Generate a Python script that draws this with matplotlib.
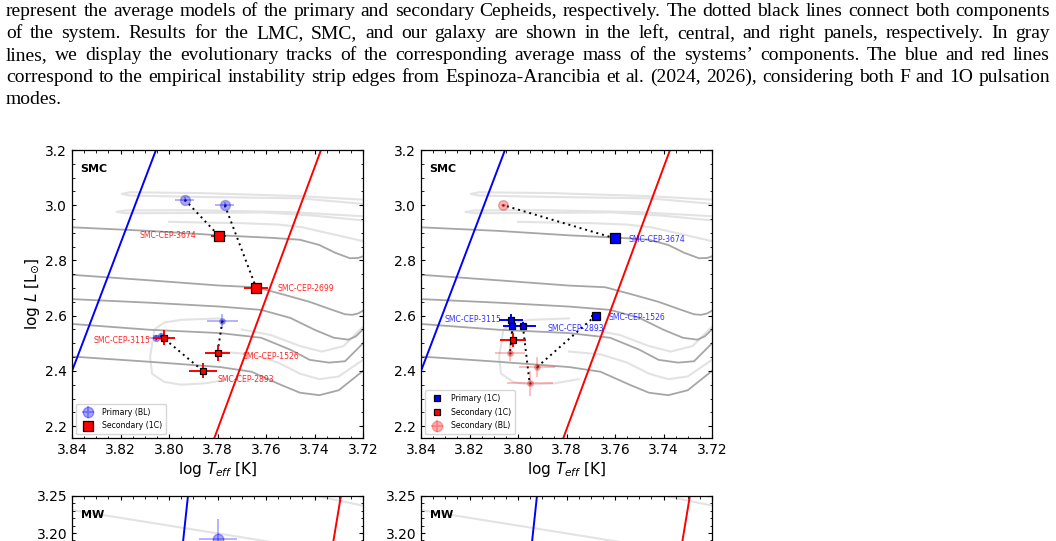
import matplotlib
matplotlib.use("Agg")
import matplotlib.pyplot as plt
from matplotlib.lines import Line2D
from matplotlib.ticker import MultipleLocator, FormatStrFormatter, FixedLocator

# ---------------- caption ----------------
caption_lines = [
    "represent the average models of the primary and secondary Cepheids, respectively. The dotted black lines connect both components",
    "of the system. Results for the LMC, SMC, and our galaxy are shown in the left, central, and right panels, respectively. In gray",
    "lines, we display the evolutionary tracks of the corresponding average mass of the systems\u2019 components. The blue and red lines",
    "correspond to the empirical instability strip edges from Espinoza-Arancibia et al. (2024, 2026), considering both F and 1O pulsation",
    "modes.",
]

# ---------------- SMC evolutionary tracks (log Teff, log L) ----------------
dark_1_T = [3.84, 3.808, 3.779, 3.758, 3.746, 3.738, 3.7315, 3.7254, 3.722, 3.72]
dark_1_L = [2.92, 2.907, 2.891, 2.882, 2.875, 2.856, 2.828, 2.808, 2.809, 2.815]
dark_2_T = [3.84, 3.808, 3.779, 3.764, 3.753, 3.742, 3.734, 3.7274, 3.7245, 3.722, 3.72]
dark_2_L = [2.748, 2.728, 2.709, 2.703, 2.677, 2.650, 2.625, 2.605, 2.603, 2.608, 2.618]
dark_3_T = [3.84, 3.808, 3.779, 3.762, 3.750, 3.740, 3.732, 3.726, 3.723, 3.72]
dark_3_L = [2.66, 2.647, 2.633, 2.621, 2.592, 2.549, 2.52, 2.513, 2.525, 2.55]
dark_4_T = [3.84, 3.808, 3.779, 3.762, 3.750, 3.742, 3.734, 3.7274, 3.72]
dark_4_L = [2.57, 2.549, 2.537, 2.52, 2.477, 2.44, 2.43, 2.435, 2.50]
dark_5_T = [3.84, 3.808, 3.779, 3.766, 3.754, 3.746, 3.738, 3.73, 3.72]
dark_5_L = [2.452, 2.433, 2.414, 2.397, 2.35, 2.321, 2.312, 2.33, 2.40]

light_1_T = [3.72, 3.746, 3.787, 3.8161, 3.8194, 3.8161, 3.787, 3.746, 3.72]
light_1_L = [3.02, 3.033, 3.044, 3.047, 3.041, 3.035, 3.030, 3.025, 3.005]
light_2_T = [3.72, 3.75, 3.79, 3.818, 3.8216, 3.818, 3.79, 3.761, 3.74, 3.72]
light_2_L = [2.96, 2.975, 2.982, 2.981, 2.976, 2.971, 2.972, 2.974, 2.962, 2.945]
light_3_T = [3.72, 3.735, 3.745, 3.755, 3.77, 3.785, 3.80]
light_3_L = [2.87, 2.90, 2.92, 2.93, 2.935, 2.937, 2.94]
light_4_T = [3.779, 3.795, 3.802, 3.806, 3.8078, 3.807, 3.802, 3.795, 3.785, 3.775]
light_4_L = [2.59, 2.585, 2.575, 2.55, 2.45, 2.39, 2.36, 2.35, 2.355, 2.37]
light_5_T = [3.72, 3.73, 3.738, 3.746, 3.755, 3.766, 3.779]
light_5_L = [2.44, 2.38, 2.37, 2.39, 2.43, 2.46, 2.47]
light_6_T = [3.72, 3.728, 3.737, 3.746, 3.758, 3.77]
light_6_L = [2.56, 2.49, 2.47, 2.49, 2.53, 2.55]

# instability strip edges
smc_blue_T = [3.8032, 3.8508]
smc_blue_L = [3.25, 2.15]
smc_red_T = [3.7352, 3.7816]
smc_red_L = [3.25, 2.15]
mw_blue_T = [3.7912, 3.8053]
mw_blue_L = [3.28, 2.85]
mw_red_T = [3.7276, 3.7494]
mw_red_L = [3.28, 2.85]

# MW tracks
mw_track_1_T = [3.84, 3.76, 3.72]
mw_track_1_L = [3.231, 3.189, 3.168]
mw_track_2_T = [3.745, 3.72]
mw_track_2_L = [3.254, 3.237]
mw_yticks = [3.20, 3.25]

# ---------------- left SMC panel (BL primaries, 1C secondaries) ----------------
left_names = ["SMC-CEP-3674", "SMC-CEP-2699", "SMC-CEP-3115", "SMC-CEP-1526", "SMC-CEP-2893"]
left_prim_T = [3.7935, 3.777, 3.8055, 3.778, 3.8035]
left_prim_L = [3.02, 3.00, 2.52, 2.58, 2.528]
left_prim_Te = [0.004, 0.004, 0.003, 0.0065, 0.003]
left_prim_Le = [0.01, 0.01, 0.01, 0.025, 0.01]
left_sec_T = [3.7795, 3.764, 3.802, 3.780, 3.786]
left_sec_L = [2.89, 2.70, 2.52, 2.465, 2.40]
left_sec_Te = [0.003, 0.005, 0.0046, 0.005, 0.0058]
left_sec_Le = [0.01, 0.01, 0.028, 0.03, 0.027]

# ---------------- right SMC panel (1C primaries, 1C / BL secondaries) ----------------
right_names = ["SMC-CEP-3674", "SMC-CEP-1526", "SMC-CEP-3115", "", "SMC-CEP-2893"]
right_prim_T = [3.760, 3.768, 3.803, 3.8023, 3.798]
right_prim_L = [2.88, 2.60, 2.585, 2.563, 2.563]
right_prim_Te = [0.002, 0.002, 0.005, 0.004, 0.0055]
right_prim_Le = [0.01, 0.012, 0.02, 0.015, 0.015]
right_sec1_T = [3.802]
right_sec1_L = [2.513]
right_sec1_Te = [0.0055]
right_sec1_Le = [0.025]
right_sec2_T = [3.806, 3.792, 3.8033, 3.7952]
right_sec2_L = [3.00, 2.415, 2.465, 2.355]
right_sec2_Te = [0.001, 0.0074, 0.006, 0.0095]
right_sec2_Le = [0.005, 0.036, 0.03, 0.046]

# MW point
mw_prim_T = [3.7798]
mw_prim_L = [3.192]
mw_prim_Te = [0.0078]
mw_prim_Le = [0.027]

# marker sizes (style)
left_prim_ms = [7.2, 7.2, 4.5, 4.0, 4.5]
left_sec_ms = [7.4, 6.6, 4.4, 4.2, 4.0]
right_prim_ms = [7.2, 5.8, 4.4, 4.2, 4.5]
right_sec2_ms = [7.0, 4.0, 4.0, 4.0]

# ---------------- figure ----------------
W, H = 1056, 541
fig = plt.figure(figsize=(W / 100, H / 100), dpi=100)

# caption, justified
renderer = fig.canvas.get_renderer()
cap_kw = dict(fontsize=14.0, family="Liberation Serif", color="black")
x0, x1 = 6.0, 1050.0
for i, line in enumerate(caption_lines):
    words = line.split(" ")
    yb = 1 - (16.5 + 21.8 * i) / H
    ts = [fig.text(0, yb, w, va="baseline", ha="left", **cap_kw) for w in words]
    ws = [t.get_window_extent(renderer).width for t in ts]
    if i == len(caption_lines) - 1:
        gap = 4.0
    else:
        gap = (x1 - x0 - sum(ws)) / (len(words) - 1)
    xc = x0
    for t, wd in zip(ts, ws):
        t.set_x(xc / W)
        xc += wd + gap

DARK = "#a6a6a6"
LIGHT = "#e3e3e3"


def setup(ax, ylim, ymaj, ymin, yfmt):
    ax.set_xlim(3.84, 3.72)
    ax.set_ylim(*ylim)
    ax.xaxis.set_major_locator(MultipleLocator(0.02))
    ax.xaxis.set_minor_locator(MultipleLocator(0.005))
    ax.yaxis.set_major_locator(MultipleLocator(ymaj))
    ax.yaxis.set_minor_locator(MultipleLocator(ymin))
    ax.xaxis.set_major_formatter(FormatStrFormatter("%.2f"))
    ax.yaxis.set_major_formatter(FormatStrFormatter(yfmt))
    ax.tick_params(which="both", direction="in", top=True, right=True, labelsize=10, pad=3.5)
    ax.tick_params(which="major", length=3.2, width=0.8)
    ax.tick_params(which="minor", length=1.8, width=0.6)
    for s in ax.spines.values():
        s.set_linewidth(0.9)


def smc_background(ax):
    for T, L in [(light_1_T, light_1_L), (light_2_T, light_2_L), (light_3_T, light_3_L),
                 (light_4_T, light_4_L), (light_5_T, light_5_L), (light_6_T, light_6_L)]:
        ax.plot(T, L, color=LIGHT, lw=1.5, zorder=1)
    for T, L in [(dark_1_T, dark_1_L), (dark_2_T, dark_2_L), (dark_3_T, dark_3_L),
                 (dark_4_T, dark_4_L), (dark_5_T, dark_5_L)]:
        ax.plot(T, L, color=DARK, lw=1.3, zorder=1.5)
    ax.plot(smc_blue_T, smc_blue_L, color="blue", lw=1.4, zorder=2)
    ax.plot(smc_red_T, smc_red_L, color="red", lw=1.4, zorder=2)
    ax.text(0.03, 0.95, "SMC", transform=ax.transAxes, fontsize=8, fontweight="bold",
            va="top", ha="left")


pw, ph = 291 / W, 288 / H
ax1 = fig.add_axes([72 / W, 1 - 438 / H, pw, ph])
ax2 = fig.add_axes([421 / W, 1 - 438 / H, pw, ph])
for ax in (ax1, ax2):
    setup(ax, (2.157, 3.2), 0.2, 0.05, "%.1f")
    smc_background(ax)
    ax.set_xlabel(r"log $T_{eff}$ [K]", fontsize=11, labelpad=2)
ax1.set_ylabel(r"log $L$ [L$_{\odot}$]", fontsize=11, labelpad=2)

# ---- left panel data ----
for k in range(len(left_names)):
    ax1.plot([left_prim_T[k], left_sec_T[k]], [left_prim_L[k], left_sec_L[k]],
             color="black", ls=(0, (1, 2)), lw=1.4, zorder=3)
    ax1.errorbar(left_prim_T[k], left_prim_L[k], xerr=left_prim_Te[k], yerr=left_prim_Le[k],
                 fmt="o", ms=left_prim_ms[k], color="blue", mec="#3030a0", alpha=0.35,
                 elinewidth=1.2, zorder=4)
    ax1.plot(left_prim_T[k], left_prim_L[k], ".", color="#202060", ms=1.5, zorder=4)
    ax1.errorbar(left_sec_T[k], left_sec_L[k], xerr=left_sec_Te[k], yerr=left_sec_Le[k],
                 fmt="s", ms=left_sec_ms[k], mfc="red", mec="black", mew=0.9,
                 ecolor="red", elinewidth=1.4, zorder=5)

lab_off_left = [(-16, 0), (15, 0), (-10, -2), (18, -2.4), (10.8, -6.5)]
for k, name in enumerate(left_names):
    dx, dy = lab_off_left[k]
    ax1.annotate(name, (left_sec_T[k], left_sec_L[k]), xytext=(dx, dy), textcoords="offset points",
                 ha="right" if dx < 0 else "left", va="center", fontsize=5.6,
                 color="red", alpha=0.85, zorder=6)

h1 = (Line2D([], [], marker="o", ms=7.5, color="blue", alpha=0.35, ls=""),
      Line2D([], [], marker="+", ms=9, mew=1.2, color="blue", alpha=0.35, ls=""))
h2 = Line2D([], [], marker="s", ms=7.4, mfc="red", mec="black", mew=0.9, ls="")
ax1.legend([h1, h2], ["Primary (BL)", "Secondary (1C)"], loc="lower left", fontsize=5.6,
           borderaxespad=0.5, handletextpad=0.8, labelspacing=0.6, borderpad=0.5)

# ---- right panel data ----
conn_right = [(0, 0), (1, 1), (3, 2), (4, 3)]  # (primary index, BL secondary index)
for p, s in conn_right:
    ax2.plot([right_prim_T[p], right_sec2_T[s]], [right_prim_L[p], right_sec2_L[s]],
             color="black", ls=(0, (1, 2)), lw=1.4, zorder=3)
ax2.plot([right_prim_T[2], right_sec1_T[0]], [right_prim_L[2], right_sec1_L[0]],
         color="black", ls=(0, (1, 2)), lw=1.4, zorder=3)
for k in range(len(right_sec2_T)):
    ax2.errorbar(right_sec2_T[k], right_sec2_L[k], xerr=right_sec2_Te[k], yerr=right_sec2_Le[k],
                 fmt="o", ms=right_sec2_ms[k], color="red", mec="#a03030", alpha=0.3,
                 elinewidth=1.2, zorder=4)
    ax2.plot(right_sec2_T[k], right_sec2_L[k], ".", color="#602020", ms=1.5, zorder=4)
ax2.errorbar(right_sec1_T, right_sec1_L, xerr=right_sec1_Te, yerr=right_sec1_Le,
             fmt="s", ms=4.2, mfc="red", mec="black", mew=0.9, ecolor="red",
             elinewidth=1.4, zorder=5)
for k in range(len(right_prim_T)):
    ax2.errorbar(right_prim_T[k], right_prim_L[k], xerr=right_prim_Te[k], yerr=right_prim_Le[k],
                 fmt="s", ms=right_prim_ms[k], mfc="blue", mec="black", mew=0.9,
                 ecolor="blue", elinewidth=1.4, zorder=5)

lab_off_right = [(9.6, -1), (9.4, -1), (-6.7, 0), (0, 0), (18, -2)]
for k, name in enumerate(right_names):
    if not name:
        continue
    dx, dy = lab_off_right[k]
    ax2.annotate(name, (right_prim_T[k], right_prim_L[k]), xytext=(dx, dy), textcoords="offset points",
                 ha="right" if dx < 0 else "left", va="center", fontsize=5.6,
                 color="blue", alpha=0.8, zorder=6)

g1 = Line2D([], [], marker="s", ms=4.5, mfc="blue", mec="black", mew=0.9, ls="")
g2 = Line2D([], [], marker="s", ms=4.5, mfc="red", mec="black", mew=0.9, ls="")
g3 = (Line2D([], [], marker="o", ms=7.5, color="red", alpha=0.3, ls=""),
      Line2D([], [], marker="+", ms=9, mew=1.2, color="red", alpha=0.3, ls=""))
ax2.legend([g1, g2, g3], ["Primary (1C)", "Secondary (1C)", "Secondary (BL)"], loc="lower left",
           fontsize=5.6, borderaxespad=0.5, handletextpad=0.8, labelspacing=0.6, borderpad=0.5)

# ---------------- MW panels (partially visible, cut by the page) ----------------
ax3 = fig.add_axes([72 / W, 1 - 784 / H, pw, ph])
ax4 = fig.add_axes([421 / W, 1 - 784 / H, pw, ph])
for ax in (ax3, ax4):
    setup(ax, (2.861, 3.25), 0.05, 0.01, "%.2f")
    ax.yaxis.set_major_locator(FixedLocator(mw_yticks))
    ax.tick_params(axis="x", which="both", labelbottom=False)
    ax.plot(mw_track_1_T, mw_track_1_L, color=LIGHT, lw=1.5, zorder=1)
    ax.plot(mw_track_2_T, mw_track_2_L, color=LIGHT, lw=1.5, zorder=1)
    ax.plot(mw_blue_T, mw_blue_L, color="blue", lw=1.4, zorder=2)
    ax.plot(mw_red_T, mw_red_L, color="red", lw=1.4, zorder=2)
    ax.text(0.03, 0.95, "MW", transform=ax.transAxes, fontsize=8, fontweight="bold",
            va="top", ha="left")
ax3.errorbar(mw_prim_T, mw_prim_L, xerr=mw_prim_Te, yerr=mw_prim_Le, fmt="o", ms=7.5,
             color="blue", alpha=0.35, elinewidth=1.2, zorder=4)

fig.savefig("out.png", dpi=100)
